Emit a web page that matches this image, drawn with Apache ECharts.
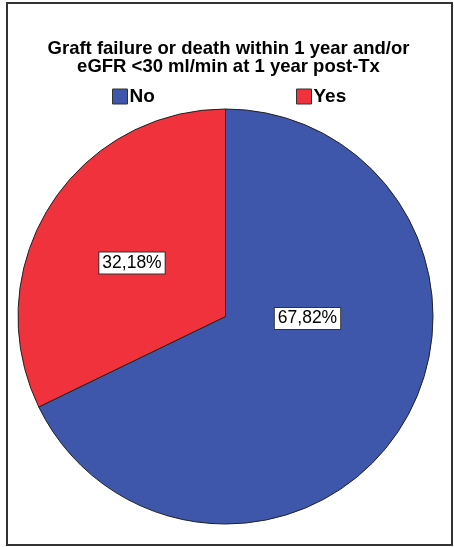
<!DOCTYPE html>
<html>
<head>
<meta charset="utf-8">
<script src="https://cdn.jsdelivr.net/npm/echarts@6/dist/echarts.min.js"></script>
<style>
  html, body { margin: 0; padding: 0; background: #fff; }
  #chart { width: 454px; height: 547px; }
</style>
</head>
<body>
<div id="chart"></div>
<script>
// Outcome categories and their shares (percent)
const categories = ['No', 'Yes'];
const shares = [67.82, 32.18];
const colors = ['#3E57AB', '#F0323C'];
const titleLines = ['Graft failure or death within 1 year and/or', 'eGFR <30 ml/min at 1 year post-Tx'];

const FONT = '"Liberation Sans", Arial, Helvetica, sans-serif';
const cx = 225.5, cy = 316.5, R = 207.5;

// Label anchor offsets from the pie centre, per slice
const labelOffsets = [[82, 2], [-93.5, -53.5]];

const chart = echarts.init(document.getElementById('chart'), null, { renderer: 'canvas' });

const fmt = v => v.toFixed(2).replace('.', ',') + '%';

chart.setOption({
  animation: false,
  backgroundColor: '#fff',
  title: {
    text: titleLines.join('\n'),
    left: 228.5,
    top: 40,
    padding: 0,
    textAlign: 'center',
    textStyle: {
      fontFamily: FONT, fontSize: 18.5, fontWeight: 'bold', color: '#000', lineHeight: 18, align: 'center'
    }
  },
  legend: categories.map((c, i) => ({
    data: [c],
    left: i === 0 ? 112 : 296,
    top: 87,
    padding: 0,
    itemWidth: 15,
    itemHeight: 15,
    icon: 'rect',
    selectedMode: false,
    itemStyle: { borderColor: '#333', borderWidth: 1 },
    textStyle: { fontFamily: FONT, fontSize: 19, fontWeight: 'bold', color: '#000', padding: [0, 0, 0, -3] }
  })),
  graphic: [{
    type: 'rect',
    shape: { x: 7, y: 3, width: 445, height: 542 },
    style: { fill: 'none', stroke: '#333', lineWidth: 2 },
    silent: true
  }],
  series: [{
    type: 'pie',
    center: [cx, cy],
    radius: R,
    startAngle: 90,
    clockwise: true,
    silent: true,
    data: categories.map((c, i) => ({ name: c, value: shares[i], itemStyle: { color: colors[i] } })),
    itemStyle: { borderColor: '#222', borderWidth: 1 },
    label: {
      show: true,
      position: 'inside',
      formatter: p => fmt(p.value),
      fontFamily: FONT,
      fontSize: 17.5,
      color: '#000',
      backgroundColor: '#fff',
      borderColor: '#333',
      borderWidth: 1,
      padding: [2, 3, 1, 3],
      align: 'center',
      verticalAlign: 'middle'
    },
    labelLine: { show: false },
    labelLayout: p => ({
      x: cx + labelOffsets[p.dataIndex][0],
      y: cy + labelOffsets[p.dataIndex][1]
    })
  }]
});
</script>
</body>
</html>
